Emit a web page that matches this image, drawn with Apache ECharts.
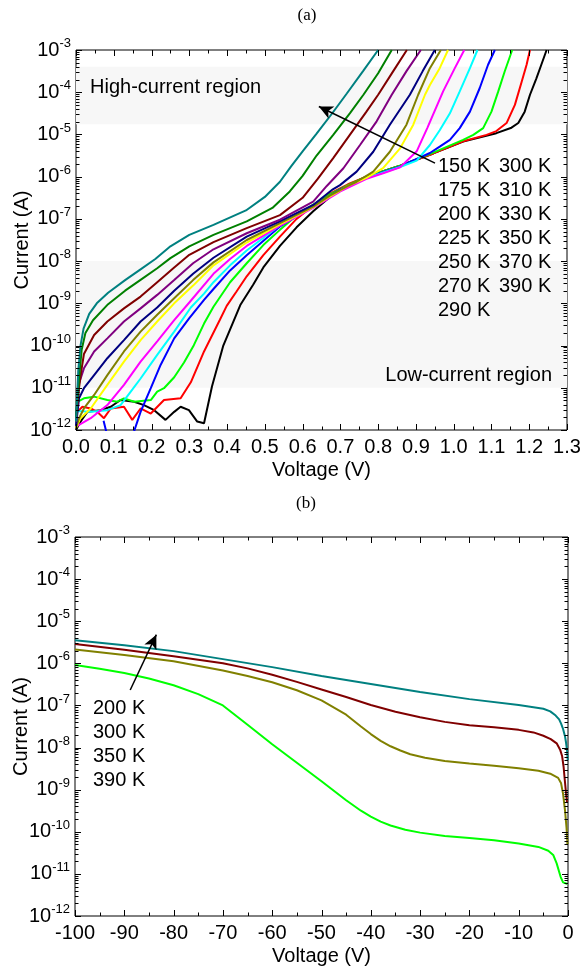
<!DOCTYPE html>
<html><head><meta charset="utf-8">
<script src="https://cdn.jsdelivr.net/npm/echarts@6/dist/echarts.min.js"></script>
<style>html,body{margin:0;padding:0;background:#fff}#c{width:580px;height:968px}</style>
</head><body><div id="c"></div>
<script>
// ---------- Panel (a): forward I-V, pairs of [voltage (V), log10 current (A)] ----------
const tempsA = ['150 K','175 K','200 K','225 K','250 K','270 K','290 K','300 K','310 K','330 K','350 K','370 K','390 K'];
const a150 = [[0,-12.0],[0.012,-11.8],[0.03,-11.57],[0.065,-11.53],[0.092,-11.45],[0.118,-11.29],[0.154,-11.33],[0.18,-11.41],[0.207,-11.53],[0.237,-11.76],[0.26,-11.57],[0.277,-11.45],[0.299,-11.53],[0.321,-11.8],[0.339,-11.84],[0.36,-10.97],[0.39,-10.0],[0.435,-9.04],[0.469,-8.56],[0.496,-8.15],[0.54,-7.64],[0.584,-7.2],[0.628,-6.82],[0.68,-6.42],[0.72,-6.2],[0.769,-6.0],[0.858,-5.74],[0.946,-5.45],[1.025,-5.17],[1.113,-4.97],[1.153,-4.84],[1.171,-4.73],[1.188,-4.46],[1.202,-4.06],[1.219,-3.67],[1.232,-3.35],[1.246,-3.0]];
const a175 = [[0,-11.6],[0.017,-11.45],[0.039,-11.49],[0.056,-11.57],[0.074,-11.72],[0.092,-11.49],[0.127,-11.45],[0.149,-11.76],[0.171,-11.49],[0.198,-11.61],[0.233,-11.29],[0.277,-11.25],[0.304,-10.87],[0.339,-10.14],[0.381,-9.39],[0.399,-9.06],[0.425,-8.72],[0.452,-8.36],[0.496,-7.86],[0.54,-7.42],[0.584,-7.0],[0.628,-6.68],[0.672,-6.4],[0.72,-6.18],[0.769,-6.0],[0.858,-5.74],[0.946,-5.45],[1.025,-5.16],[1.087,-5.01],[1.113,-4.92],[1.14,-4.73],[1.162,-4.3],[1.18,-3.75],[1.193,-3.35],[1.202,-3.0]];
const a200 = [[0,-11.35],[0.021,-11.25],[0.048,-11.21],[0.083,-11.29],[0.109,-11.33],[0.127,-11.25],[0.154,-11.33],[0.198,-11.29],[0.215,-11.09],[0.233,-11.01],[0.26,-10.75],[0.286,-10.4],[0.312,-9.99],[0.339,-9.48],[0.364,-9.08],[0.408,-8.5],[0.452,-8.05],[0.496,-7.62],[0.54,-7.26],[0.584,-6.92],[0.628,-6.66],[0.672,-6.42],[0.72,-6.2],[0.769,-6.0],[0.858,-5.74],[0.946,-5.43],[1.025,-5.13],[1.052,-5.01],[1.078,-4.85],[1.1,-4.46],[1.118,-3.98],[1.135,-3.51],[1.155,-3.0]];
const a225 = [[0.073,-11.78],[0.09,-12.4],[0.14,-12.4],[0.171,-11.57],[0.198,-11.01],[0.224,-10.46],[0.26,-9.83],[0.3,-9.35],[0.339,-8.92],[0.364,-8.66],[0.408,-8.22],[0.452,-7.86],[0.54,-7.18],[0.628,-6.7],[0.7,-6.3],[0.769,-6.02],[0.858,-5.76],[0.937,-5.44],[0.963,-5.29],[0.99,-5.13],[1.016,-4.85],[1.043,-4.46],[1.069,-3.9],[1.091,-3.35],[1.109,-3.0]];
const a250 = [[0,-11.55],[0.039,-11.57],[0.083,-11.53],[0.118,-11.41],[0.145,-11.09],[0.171,-10.78],[0.215,-10.22],[0.26,-9.67],[0.304,-9.1],[0.339,-8.77],[0.364,-8.5],[0.408,-8.1],[0.452,-7.75],[0.54,-7.15],[0.628,-6.72],[0.7,-6.33],[0.769,-6.03],[0.858,-5.77],[0.902,-5.62],[0.937,-5.25],[0.963,-4.9],[0.99,-4.5],[1.016,-3.98],[1.043,-3.43],[1.063,-3.0]];
const a270 = [[0,-11.92],[0.039,-11.72],[0.083,-11.41],[0.127,-10.93],[0.171,-10.38],[0.215,-9.9],[0.26,-9.4],[0.3,-8.98],[0.364,-8.3],[0.408,-7.95],[0.452,-7.64],[0.54,-7.16],[0.628,-6.74],[0.7,-6.35],[0.769,-6.05],[0.813,-5.92],[0.858,-5.78],[0.902,-5.4],[0.93,-4.85],[0.972,-3.98],[1.003,-3.43],[1.028,-3.0]];
const a290 = [[0,-11.95],[0.012,-11.72],[0.039,-11.49],[0.083,-10.93],[0.127,-10.38],[0.171,-9.87],[0.215,-9.43],[0.26,-9.0],[0.31,-8.58],[0.364,-8.1],[0.452,-7.56],[0.54,-7.13],[0.628,-6.72],[0.672,-6.47],[0.72,-6.22],[0.769,-6.03],[0.813,-5.8],[0.858,-5.33],[0.893,-4.77],[0.924,-4.06],[0.937,-3.83],[0.963,-3.43],[0.985,-3.0]];
const a300 = [[0,-11.95],[0.008,-11.72],[0.021,-11.49],[0.048,-11.17],[0.083,-10.7],[0.127,-10.14],[0.171,-9.67],[0.215,-9.27],[0.26,-8.88],[0.31,-8.45],[0.364,-8.03],[0.452,-7.5],[0.54,-7.1],[0.628,-6.71],[0.672,-6.45],[0.72,-6.22],[0.743,-6.12],[0.787,-5.88],[0.831,-5.41],[0.875,-4.77],[0.906,-4.06],[0.937,-3.43],[0.966,-3.0]];
const a310 = [[0,-11.9],[0.008,-11.25],[0.021,-11.01],[0.048,-10.7],[0.083,-10.3],[0.127,-9.87],[0.171,-9.43],[0.215,-9.1],[0.26,-8.7],[0.31,-8.3],[0.364,-7.92],[0.452,-7.42],[0.54,-7.06],[0.628,-6.67],[0.68,-6.3],[0.699,-6.2],[0.743,-5.88],[0.787,-5.41],[0.831,-4.77],[0.884,-4.06],[0.918,-3.5],[0.95,-3.0]];
const a330 = [[0,-11.8],[0.008,-10.9],[0.021,-10.54],[0.048,-10.14],[0.083,-9.83],[0.127,-9.43],[0.171,-9.12],[0.215,-8.8],[0.26,-8.45],[0.31,-8.05],[0.364,-7.72],[0.452,-7.34],[0.54,-7.02],[0.628,-6.59],[0.664,-6.22],[0.708,-5.8],[0.752,-5.25],[0.796,-4.69],[0.836,-4.06],[0.875,-3.5],[0.913,-3.0]];
const a350 = [[0,-11.7],[0.008,-11.0],[0.014,-10.6],[0.021,-10.2],[0.048,-9.75],[0.083,-9.43],[0.127,-9.12],[0.171,-8.84],[0.215,-8.5],[0.26,-8.15],[0.3,-7.85],[0.364,-7.55],[0.452,-7.22],[0.54,-6.91],[0.6,-6.5],[0.64,-6.05],[0.681,-5.56],[0.725,-5.01],[0.769,-4.46],[0.8,-4.06],[0.84,-3.5],[0.876,-3.0]];
const a370 = [[0,-11.7],[0.008,-10.8],[0.015,-10.1],[0.025,-9.7],[0.045,-9.4],[0.085,-9.02],[0.13,-8.7],[0.17,-8.45],[0.215,-8.17],[0.25,-7.93],[0.3,-7.65],[0.364,-7.38],[0.452,-7.06],[0.52,-6.74],[0.566,-6.35],[0.6,-5.98],[0.637,-5.5],[0.681,-5.01],[0.725,-4.5],[0.761,-4.06],[0.8,-3.55],[0.836,-3.0]];
const a390 = [[0,-11.8],[0.006,-10.6],[0.012,-10.0],[0.02,-9.6],[0.035,-9.25],[0.055,-9.0],[0.085,-8.75],[0.13,-8.45],[0.17,-8.2],[0.21,-7.95],[0.25,-7.65],[0.3,-7.38],[0.364,-7.14],[0.45,-6.8],[0.5,-6.48],[0.54,-6.12],[0.57,-5.75],[0.6,-5.4],[0.637,-4.98],[0.68,-4.48],[0.717,-4.03],[0.76,-3.5],[0.8,-3.0]];
const curvesA = [a150,a175,a200,a225,a250,a270,a290,a300,a310,a330,a350,a370,a390];

// ---------- Panel (b): reverse I-V, pairs of [voltage (V), log10 current (A)] ----------
const tempsB = ['200 K','300 K','350 K','390 K'];
const b200 = [[-100,-6.04],[-95,-6.13],[-90,-6.23],[-85,-6.36],[-80,-6.52],[-75,-6.73],[-70,-7.0],[-65,-7.46],[-60,-7.92],[-55,-8.36],[-50,-8.8],[-45,-9.25],[-42,-9.5],[-40,-9.64],[-38,-9.76],[-36,-9.85],[-33,-9.95],[-30,-10.02],[-25,-10.1],[-20,-10.15],[-15,-10.2],[-10,-10.28],[-6,-10.36],[-4,-10.45],[-3,-10.55],[-2.3,-10.75],[-1.5,-11.07],[-1,-11.2],[-0.6,-11.23],[-0.1,-11.24]];
const b300 = [[-100,-5.67],[-90,-5.8],[-80,-5.95],[-70,-6.17],[-65,-6.3],[-60,-6.45],[-55,-6.64],[-50,-6.88],[-45,-7.22],[-42,-7.5],[-40,-7.68],[-38,-7.84],[-36,-7.97],[-34,-8.07],[-32,-8.16],[-29,-8.24],[-25,-8.32],[-20,-8.38],[-15,-8.43],[-10,-8.49],[-6,-8.55],[-3.6,-8.62],[-2,-8.72],[-1.4,-8.85],[-1,-9.1],[-0.6,-9.5],[-0.3,-9.9],[-0.1,-10.3]];
const b350 = [[-100,-5.54],[-90,-5.68],[-80,-5.83],[-70,-6.0],[-65,-6.12],[-60,-6.27],[-55,-6.44],[-50,-6.62],[-45,-6.8],[-40,-6.99],[-35,-7.15],[-30,-7.28],[-25,-7.39],[-20,-7.47],[-15,-7.52],[-10,-7.58],[-7,-7.64],[-5,-7.72],[-3.5,-7.8],[-2.3,-7.9],[-1.6,-8.05],[-1.2,-8.2],[-0.9,-8.45],[-0.65,-8.77],[-0.4,-9.09],[-0.2,-9.3]];
const b390 = [[-100,-5.45],[-90,-5.57],[-80,-5.71],[-70,-5.9],[-60,-6.09],[-50,-6.3],[-40,-6.49],[-30,-6.68],[-20,-6.85],[-10,-6.99],[-5,-7.08],[-3.6,-7.14],[-2.5,-7.24],[-1.8,-7.33],[-1.4,-7.43],[-1,-7.56],[-0.6,-7.74],[-0.4,-7.88],[-0.2,-8.06],[-0.05,-8.3]];
const curvesB = [b200,b300,b350,b390];

// ---------- axis ticks ----------
const xMajorA = [0,0.1,0.2,0.3,0.4,0.5,0.6,0.7,0.8,0.9,1.0,1.1,1.2,1.3];
const xMinorA = [0.05,0.15,0.25,0.35,0.45,0.55,0.65,0.75,0.85,0.95,1.05,1.15,1.25];
const xMajorB = [-100,-90,-80,-70,-60,-50,-40,-30,-20,-10,0];
const xMinorB = [-95,-85,-75,-65,-55,-45,-35,-25,-15,-5];
const decades = [-12,-11,-10,-9,-8,-7,-6,-5,-4,-3];
const mantissas = [2,3,4,5,6,7,8,9];

// shaded regions (A) and annotation arrows (data coordinates)
const highBand = [1.75e-5, 4e-4];
const lowBand = [1e-11, 1e-8];
const arrowA = [[0.9505, 2.09e-6],[0.643, 4.6e-5]];
const arrowB = [[-88.8, 2.32e-7],[-83.5, 4.8e-6]];

// ---------- styles ----------
const colorsA = ['#000000','#ff0000','#00ff00','#0000ff','#00ffff','#ff00ff','#ffff00','#808000','#000080','#800080','#800000','#008000','#008080'];
const colorsB = ['#00ff00','#808000','#800000','#008080'];
const FONT = '"Liberation Sans", Arial, Helvetica, sans-serif';
const SERIF = '"Liberation Serif", "Times New Roman", serif';

const chart = echarts.init(document.getElementById('c'), null, {renderer:'canvas'});
const toPow = c => c.map(p => [p[0], Math.pow(10, p[1])]);

function xAxes(grid, min, max, interval, fmt) {
  const base = {gridIndex: grid, type:'value', min:min, max:max, interval:interval,
    axisLine:{show:false}, axisTick:{show:false}, minorTick:{show:false},
    splitLine:{show:false}, minorSplitLine:{show:false}};
  return [
    Object.assign({}, base, {position:'bottom',
      axisLabel:{show:true, color:'#000', fontSize:20, fontFamily:FONT, margin:7, formatter:fmt, showMinLabel:true, showMaxLabel:true, hideOverlap:false},
      name:'Voltage (V)', nameLocation:'middle', nameGap:30, nameMoveOverlap:false,
      nameTextStyle:{color:'#000', fontSize:20, fontFamily:FONT}}),
    Object.assign({}, base, {position:'top', axisLabel:{show:false}})
  ];
}
function yAxes(grid) {
  const base = {gridIndex: grid, type:'log', logBase:10, min:1e-12, max:1e-3, splitNumber:9,
    axisLine:{show:false}, axisTick:{show:false}, minorTick:{show:false},
    splitLine:{show:false}, minorSplitLine:{show:false}};
  return [
    Object.assign({}, base, {position:'left',
      axisLabel:{show:true, margin:5, showMinLabel:true, showMaxLabel:true, hideOverlap:false,
        formatter: v => '{b|10}{s|' + Math.round(Math.log10(v)) + '}',
        rich:{b:{fontSize:20, fontFamily:FONT, color:'#000', lineHeight:26},
              s:{fontSize:13, fontFamily:FONT, color:'#000', verticalAlign:'top', lineHeight:14}}},
      name:'Current (A)', nameLocation:'middle', nameGap:44, nameRotate:90, nameMoveOverlap:false,
      nameTextStyle:{color:'#000', fontSize:20, fontFamily:FONT}}),
    Object.assign({}, base, {position:'right', axisLabel:{show:false}})
  ];
}

const series = [];
series.push({
  type:'line', xAxisIndex:0, yAxisIndex:0, data:[], z:1, silent:true, animation:false,
  markArea:{silent:true, itemStyle:{color:'#f7f7f7'},
    data:[[{yAxis:highBand[0]},{yAxis:highBand[1]}],[{yAxis:lowBand[0]},{yAxis:lowBand[1]}]]},
  markLine:{silent:true, symbol:'none', label:{show:false},
    lineStyle:{type:'dotted', color:'#a8a8a8', width:1},
    data:[{yAxis:highBand[0]},{yAxis:highBand[1]},{yAxis:lowBand[0]},{yAxis:lowBand[1]}]}
});
curvesA.forEach((c,i) => series.push({
  name:tempsA[i], type:'line', xAxisIndex:0, yAxisIndex:0, data:toPow(c),
  showSymbol:false, symbol:'none', smooth:false, clip:true, silent:true, animation:false, z:3,
  lineStyle:{color:colorsA[i], width:2}
}));
curvesB.forEach((c,i) => series.push({
  name:tempsB[i]+' (b)', type:'line', xAxisIndex:2, yAxisIndex:2, data:toPow(c),
  showSymbol:false, symbol:'none', smooth:false, clip:true, silent:true, animation:false, z:3,
  lineStyle:{color:colorsB[i], width:2}
}));
series.push({type:'line', xAxisIndex:0, yAxisIndex:0, data:[], z:5, silent:true, animation:false,
  markLine:{silent:true, symbol:['none','arrow'], symbolSize:[10,14], label:{show:false},
    lineStyle:{type:'solid', color:'#000', width:1.5},
    data:[[{coord:arrowA[0]},{coord:arrowA[1]}]]}});
series.push({type:'line', xAxisIndex:2, yAxisIndex:2, data:[], z:5, silent:true, animation:false,
  markLine:{silent:true, symbol:['none','arrow'], symbolSize:[10,14], label:{show:false},
    lineStyle:{type:'solid', color:'#000', width:1.5},
    data:[[{coord:arrowB[0]},{coord:arrowB[1]}]]}});

const txt = (text, x, y, align, font) => ({type:'text', x:x, y:y, silent:true, z:10,
  style:{text:text, font:font || ('20px ' + FONT), fill:'#000', align:align||'left', verticalAlign:'middle'}});
const graphics = [
  txt('(a)', 307, 16, 'center', '17px ' + SERIF),
  txt('(b)', 306, 504, 'center', '17px ' + SERIF),
  txt('High-current region', 90, 87, 'left'),
  txt('Low-current region', 552, 375, 'right')
];
const rowsA = [166.5, 190.5, 214.5, 238.5, 262.5, 286.5, 310.5];
tempsA.forEach((t,i) => {
  if (i < 7) graphics.push(txt(t, 438, rowsA[i], 'left'));
  else graphics.push(txt(t, 499, rowsA[i-7], 'left'));
});
const rowsB = [708, 732, 756, 780];
tempsB.forEach((t,i) => graphics.push(txt(t, 93, rowsB[i], 'left')));

const xa = xAxes(0, 0, 1.3, 0.1, v => v.toFixed(1));
const xb = xAxes(1, -100, 0, 10, v => String(Math.round(v)));
const ya = yAxes(0);
const yb = yAxes(1);
chart.setOption({
  animation:false,
  backgroundColor:'#fff',
  grid:[{left:76, top:50, width:491, height:380, show:true, borderColor:'#000', borderWidth:1, backgroundColor:'transparent', containLabel:false, outerBoundsMode:'none'},
        {left:75, top:537, width:493, height:379, show:true, borderColor:'#000', borderWidth:1, backgroundColor:'transparent', containLabel:false, outerBoundsMode:'none'}],
  xAxis:[xa[0], xa[1], xb[0], xb[1]],
  yAxis:[ya[0], ya[1], yb[0], yb[1]],
  series: series
});

// inward tick marks on all four sides, placed through the axes' own scales
function tickLines(xi, yi, xMin, xMax, xMajor, xMinor) {
  const out = [];
  const px = v => chart.convertToPixel({xAxisIndex:xi}, v);
  const py = v => chart.convertToPixel({yAxisIndex:yi}, v);
  const left = px(xMin), right = px(xMax), top = py(1e-3), bottom = py(1e-12);
  const seg = (x1,y1,x2,y2) => out.push({type:'line', silent:true, z:30,
    shape:{x1:x1, y1:y1, x2:x2, y2:y2}, style:{stroke:'#000', lineWidth:1}});
  const vt = (v, len) => { const x = Math.round(px(v)) + 0.5; seg(x, bottom, x, bottom - len); seg(x, top, x, top + len); };
  const ht = (v, len) => { const y = Math.round(py(v)) + 0.5; seg(left, y, left + len, y); seg(right, y, right - len, y); };
  xMajor.forEach(v => vt(v, 6));
  xMinor.forEach(v => vt(v, 3.5));
  decades.forEach(d => ht(Math.pow(10, d), 6));
  decades.slice(0, -1).forEach(d => mantissas.forEach(m => ht(m * Math.pow(10, d), 3.5)));
  return out;
}
const ticks = tickLines(0, 0, 0, 1.3, xMajorA, xMinorA).concat(tickLines(2, 2, -100, 0, xMajorB, xMinorB));
chart.setOption({graphic: graphics.concat(ticks)});
</script></body></html>
